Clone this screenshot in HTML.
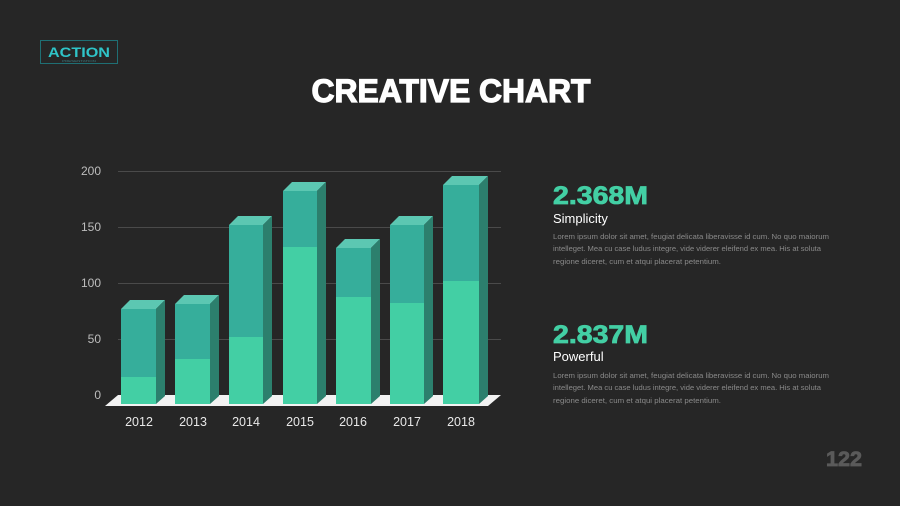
<!DOCTYPE html>
<html><head><meta charset="utf-8"><style>
html,body{margin:0;padding:0;background:#262626;}
svg{display:block}
text{font-family:"Liberation Sans",sans-serif}
</style></head><body>
<svg width="900" height="506" viewBox="0 0 900 506" xmlns="http://www.w3.org/2000/svg">
<rect width="900" height="506" fill="#262626"/>
<!-- logo -->
<rect x="40.5" y="40.5" width="77" height="23" fill="none" stroke="#1f6f74" stroke-width="1"/>
<text x="79" y="57" text-anchor="middle" font-size="14" font-weight="bold" fill="#2fc4c8" textLength="62" lengthAdjust="spacingAndGlyphs">ACTION</text>
<text x="79" y="62" text-anchor="middle" font-size="3" fill="#3a7a80" textLength="34" lengthAdjust="spacingAndGlyphs">PRESENTATION</text>
<!-- title -->
<text x="451" y="102" text-anchor="middle" font-size="32" font-weight="bold" fill="#fff" stroke="#fff" stroke-width="1.2" textLength="279" lengthAdjust="spacingAndGlyphs">CREATIVE CHART</text>
<!-- grid -->
<g stroke="#4a4a4a" stroke-width="1">
<line x1="118" y1="171.5" x2="501" y2="171.5"/>
<line x1="118" y1="227.5" x2="501" y2="227.5"/>
<line x1="118" y1="283.5" x2="501" y2="283.5"/>
<line x1="118" y1="339.5" x2="501" y2="339.5"/>
</g>
<g font-size="12" fill="#bdbdbd" text-anchor="end">
<text x="101" y="175">200</text>
<text x="101" y="231">150</text>
<text x="101" y="287">100</text>
<text x="101" y="343">50</text>
<text x="101" y="399">0</text>
</g>
<!-- floor -->
<polygon points="118,395 501,395 488,406 105,406" fill="#f2f2f2"/>
<!-- bars -->
<g id="bars"></g>
<g font-size="12.5" fill="#e8e8e8" text-anchor="middle">
<text x="139" y="426">2012</text>
<text x="193" y="426">2013</text>
<text x="246" y="426">2014</text>
<text x="300" y="426">2015</text>
<text x="353" y="426">2016</text>
<text x="407" y="426">2017</text>
<text x="461" y="426">2018</text>
</g>
<!-- right text -->
<text x="553" y="204" font-size="25" font-weight="bold" fill="#43cfa4" stroke="#43cfa4" stroke-width="0.8" textLength="95" lengthAdjust="spacingAndGlyphs">2.368M</text>
<text x="553" y="223" font-size="13" fill="#fff">Simplicity</text>
<g font-size="7.2" fill="#8a8a8a">
<text x="553" y="239" textLength="276" lengthAdjust="spacingAndGlyphs">Lorem ipsum dolor sit amet, feugiat delicata liberavisse id cum. No quo maiorum</text>
<text x="553" y="251" textLength="268" lengthAdjust="spacingAndGlyphs">intelleget. Mea cu case ludus integre, vide viderer eleifend ex mea. His at soluta</text>
<text x="553" y="264" textLength="168" lengthAdjust="spacingAndGlyphs">regione diceret, cum et atqui placerat petentium.</text>
</g>
<text x="553" y="343" font-size="25" font-weight="bold" fill="#43cfa4" stroke="#43cfa4" stroke-width="0.8" textLength="95" lengthAdjust="spacingAndGlyphs">2.837M</text>
<text x="553" y="361" font-size="13" fill="#fff">Powerful</text>
<g font-size="7.2" fill="#8a8a8a">
<text x="553" y="378" textLength="276" lengthAdjust="spacingAndGlyphs">Lorem ipsum dolor sit amet, feugiat delicata liberavisse id cum. No quo maiorum</text>
<text x="553" y="390" textLength="268" lengthAdjust="spacingAndGlyphs">intelleget. Mea cu case ludus integre, vide viderer eleifend ex mea. His at soluta</text>
<text x="553" y="403" textLength="168" lengthAdjust="spacingAndGlyphs">regione diceret, cum et atqui placerat petentium.</text>
</g>
<text x="862" y="466" text-anchor="end" font-size="21" font-weight="bold" fill="#5a5a5a" stroke="#5a5a5a" stroke-width="0.8" textLength="36" lengthAdjust="spacingAndGlyphs">122</text>
<!-- bars drawn -->
<g>
<!-- template per bar: x,w=35,d=9 top,split,bottom=404 -->
<!-- 2012 -->
<polygon points="121,309 130,300 165,300 156,309" fill="#5cc7b2"/>
<polygon points="156,309 165,300 165,396 156,404" fill="#2c7f6d"/>
<rect x="121" y="309" width="35" height="68" fill="#36ae9b"/>
<rect x="121" y="377" width="35" height="27" fill="#43cfa4"/>
<!-- 2013 -->
<polygon points="175,304 184,295 219,295 210,304" fill="#5cc7b2"/>
<polygon points="210,304 219,295 219,396 210,404" fill="#2c7f6d"/>
<rect x="175" y="304" width="35" height="55" fill="#36ae9b"/>
<rect x="175" y="359" width="35" height="45" fill="#43cfa4"/>
<!-- 2014 -->
<polygon points="229,225 238,216 272,216 263,225" fill="#5cc7b2"/>
<polygon points="263,225 272,216 272,396 263,404" fill="#2c7f6d"/>
<rect x="229" y="225" width="34" height="112" fill="#36ae9b"/>
<rect x="229" y="337" width="34" height="67" fill="#43cfa4"/>
<!-- 2015 -->
<polygon points="283,191 292,182 326,182 317,191" fill="#5cc7b2"/>
<polygon points="317,191 326,182 326,396 317,404" fill="#2c7f6d"/>
<rect x="283" y="191" width="34" height="56" fill="#36ae9b"/>
<rect x="283" y="247" width="34" height="157" fill="#43cfa4"/>
<!-- 2016 -->
<polygon points="336,248 345,239 380,239 371,248" fill="#5cc7b2"/>
<polygon points="371,248 380,239 380,396 371,404" fill="#2c7f6d"/>
<rect x="336" y="248" width="35" height="49" fill="#36ae9b"/>
<rect x="336" y="297" width="35" height="107" fill="#43cfa4"/>
<!-- 2017 -->
<polygon points="390,225 399,216 433,216 424,225" fill="#5cc7b2"/>
<polygon points="424,225 433,216 433,396 424,404" fill="#2c7f6d"/>
<rect x="390" y="225" width="34" height="78" fill="#36ae9b"/>
<rect x="390" y="303" width="34" height="101" fill="#43cfa4"/>
<!-- 2018 -->
<polygon points="443,185 452,176 488,176 479,185" fill="#5cc7b2"/>
<polygon points="479,185 488,176 488,396 479,404" fill="#2c7f6d"/>
<rect x="443" y="185" width="36" height="96" fill="#36ae9b"/>
<rect x="443" y="281" width="36" height="123" fill="#43cfa4"/>
</g>
</svg>
</body></html>
